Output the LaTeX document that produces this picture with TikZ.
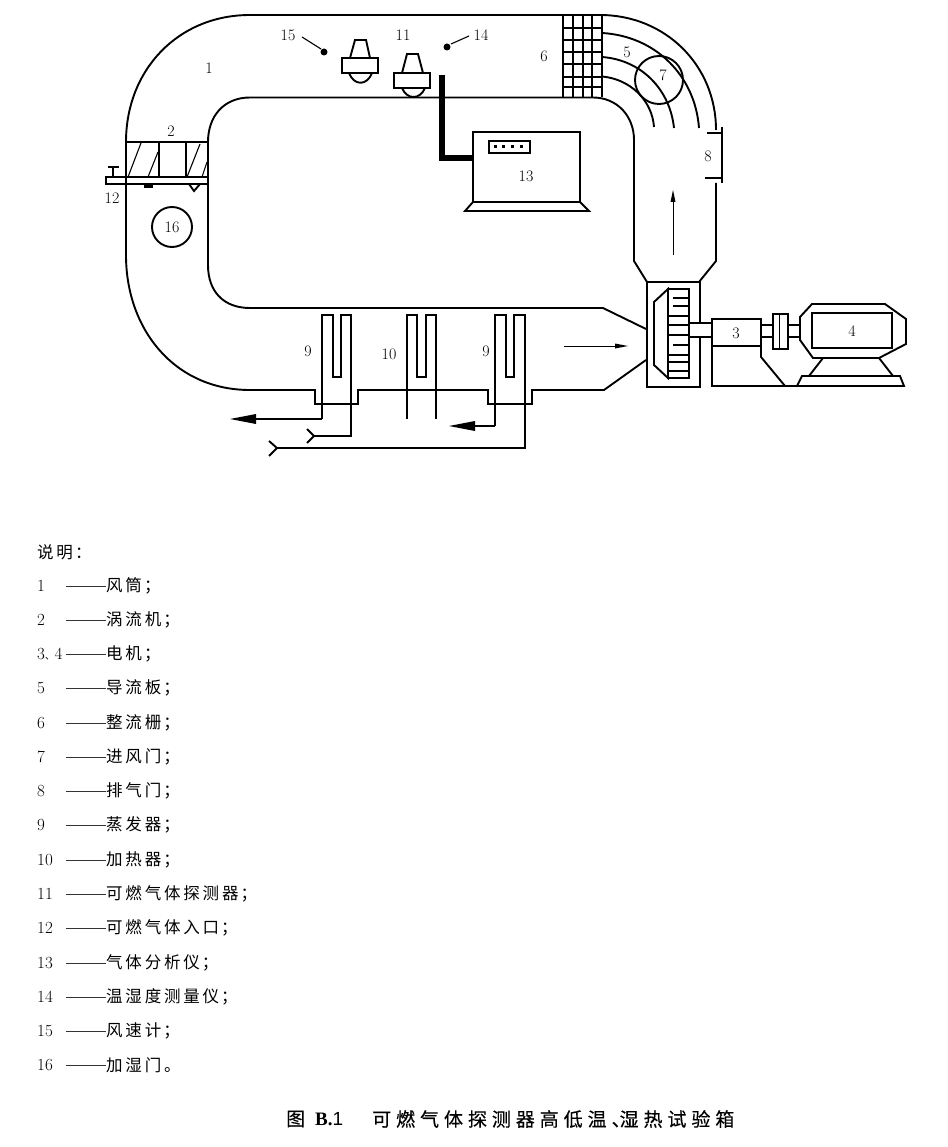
\documentclass[tikz,border=0pt]{standalone}
\usepackage{fontspec}
\newfontfamily\cjk{Noto Sans CJK SC}[LetterSpace=17]
\newfontfamily\cjkp{Noto Sans CJK SC}
\newfontfamily\cjkb{Noto Sans CJK SC}[LetterSpace=26,FakeBold=0.4]
\newfontfamily\capbold{Liberation Serif Bold}
\newfontfamily\capsans{Liberation Sans}
\tikzset{
  wall/.style={line width=1.9pt,line join=miter},
  thin line/.style={line width=1.1pt},
  num/.style={font=\fontsize{16}{17}\selectfont,inner sep=0pt},
  legend/.style={anchor=west,inner sep=0pt,font=\fontsize{16.5}{17}\selectfont},
  legnum/.style={anchor=west,inner sep=0pt,font=\fontsize{17}{18}\selectfont},
  dashrule/.style={line width=.8pt,black!80},
  capt/.style={inner sep=0pt,anchor=west,font=\fontsize{19}{20}\selectfont}
}
\newcommand{\semi}{\hspace{2pt}；}
\begin{document}
\begin{tikzpicture}[x=1pt,y=-1pt]
\useasboundingbox (0,0) rectangle (947,1147);
% duct
\draw[wall] (126,184) -- (126,142) .. controls (126,70) and (178,15) .. (250,15) -- (600,15)
  .. controls (665,15) and (716,65) .. (716,130);
\draw[wall] (208,142) .. controls (208,116) and (224,97.5) .. (250,97.5) -- (593,97.5)
  .. controls (617,97.5) and (634,116) .. (634,140) -- (634,261) -- (647,282);
\draw[wall] (716,183) -- (716,261) -- (699,282);
\draw[wall] (126,184) -- (126,255) .. controls (126,330) and (175,390) .. (250,390) -- (315,390) -- (315,404) -- (358,404) -- (358,390)
  -- (488,390) -- (488,404) -- (532,404) -- (532,390) -- (604,390) -- (646,360);
\draw[wall] (208,142) -- (208,265) .. controls (208,292) and (224,308) .. (250,308) -- (603,308) -- (646,329);
% vanes
\draw[wall] (602,33) .. controls (655,36) and (695,75) .. (699,128);
\draw[wall] (602,57) .. controls (642,60) and (670,90) .. (674,128);
\draw[wall] (602,76.5) .. controls (630,79) and (652,100) .. (654,127);
\node[draw,circle,wall,minimum size=48pt,inner sep=0pt] (c7) at (659,80) {};
% grid
\foreach \x in {563,573,583,592,602} \draw[wall] (\x,15) -- (\x,97.5);
\foreach \y in {28,40,52,64,77,87} \draw[wall] (563,\y) -- (602,\y);
% outlet 8
\draw[wall] (722,127) -- (722,183);
\draw[wall] (707,133) -- (722,133);
\draw[wall] (705,178) -- (722,178);
% swirl section 2
\draw[wall] (126,142) -- (208,142);
\draw[wall] (159,142) -- (159,177);
\draw[wall] (186,142) -- (186,177);
\draw[thin line] (128,177) -- (141,143) (148,177) -- (158,152) (187,177) -- (200,144) (202,177) -- (207,162);
\draw[wall] (106,177) rectangle (208,184);
\draw[wall] (113,177) -- (113,167) (108,167) -- (119,167);
\fill (144,184) rectangle (153,188);
\draw[wall] (189,184) -- (194,191) -- (200,184);
\node[draw,circle,wall,minimum size=40pt,inner sep=0pt,num] (c16) at (172,227) {16};
% sensors
\draw[wall] (350,58) -- (355,40) -- (366,40) -- (370,58);
\draw[wall] (342,58) rectangle (378,73);
\draw[wall] (349,73) .. controls (354,86) and (367,86) .. (372,73);
\draw[wall] (402,73) -- (407,54) -- (418,54) -- (423,73);
\draw[wall] (394,73) rectangle (430,88);
\draw[wall] (402,88) .. controls (407,100) and (420,100) .. (425,88);
\fill (324,52) circle (3.5);
\draw[thin line] (302,37) -- (321,49);
\fill (447,47) circle (3.5);
\draw[thin line] (451,44) -- (469,36);
% analyser
\draw[line width=6pt,line join=miter] (442,75) -- (442,158) -- (473,158);
\draw[wall] (473,132) rectangle (580,202);
\draw[wall] (489,141) rectangle (530,153);
\foreach \x in {495,503,512,521} \fill (\x-1.5,145.5) rectangle (\x+1.5,148.5);
\draw[wall] (473,202) -- (465,211) -- (589,211) -- (580,202);
% evaporators
\draw[wall] (322,419) -- (322,315) -- (333,315) -- (333,377) -- (341,377) -- (341,315) -- (351,315) -- (351,436) -- (314,436);
\draw[wall] (307,429) -- (314,436) -- (307,443);
\draw[wall] (322,419) -- (250,419);
\fill (230,419) -- (256,414) -- (256,424) -- cycle;
\draw[wall] (407,419) -- (407,315) -- (417,315) -- (417,377) -- (426,377) -- (426,315) -- (436,315) -- (436,419);
\draw[wall] (495,426) -- (495,315) -- (506,315) -- (506,377) -- (514,377) -- (514,315) -- (525,315) -- (525,448) -- (277,448);
\draw[wall] (269,441) -- (277,448) -- (269,456);
\draw[wall] (495,426) -- (470,426);
\fill (449,426) -- (475,421) -- (475,431) -- cycle;
% fan
\draw[wall] (700,323) -- (700,282) -- (647,282) -- (647,387) -- (700,387) -- (700,337);
\draw[wall] (668,289) -- (654,302) -- (654,365) -- (668,378) -- cycle;
\draw[wall] (668,289) rectangle (689,378);
\foreach \y in {316,325,335,355,362,371} \draw[wall] (668,\y) -- (689,\y);
\foreach \y in {298,306,345} \draw[wall] (673,\y) -- (689,\y);
% motor 3
\draw[wall] (689,323) -- (712,323) (689,337) -- (712,337);
\draw[wall] (712,319) rectangle (761,346);
\draw[wall] (712,346) -- (712,386) -- (799,386);
\draw[wall] (761,346) -- (761,357) -- (785,386);
\draw[wall] (761,325) -- (773,325) (761,337) -- (773,337);
\draw[wall] (773,314) rectangle (788,349);
\draw[wall] (779.5,314) -- (779.5,349);
\draw[wall] (788,325) -- (800,325) (788,337) -- (800,337);
% motor 4
\draw[wall] (800,317) -- (812,304) -- (885,304) -- (906,319) -- (906,344) -- (879,358) -- (813,358) -- (800,340) -- cycle;
\draw[wall] (812,313) rectangle (892,348);
\draw[wall] (823,358) -- (809,376) (879,358) -- (893,376);
\draw[wall] (802,376) -- (900,376) -- (904,386) -- (797,386) -- cycle;
% flow arrows
\draw[line width=.8pt] (673,255) -- (673,200);
\fill (673,190) -- (670.5,202) -- (675.5,202) -- cycle;
\draw[line width=.8pt] (564,346) -- (618,346);
\fill (628,346) -- (615,343.5) -- (615,348.5) -- cycle;
% labels
\node[num] (n1) at (209,68) {1};
\node[num] (n2) at (171,131) {2};
\node[num] (n12) at (112,198) {12};
\node[num] (n15) at (288,35) {15};
\node[num] (n11) at (403,35) {11};
\node[num] (n14) at (481,35) {14};
\node[num] (n6) at (544,56) {6};
\node[num] (n5) at (627,52) {5};
\node[num] (n7) at (663,75) {7};
\node[num] (n8) at (708,156) {8};
\node[num] (n13) at (526,176) {13};
\node[num] (n3) at (736,333) {3};
\node[num] (n4) at (852,331) {4};
\node[num] (n9a) at (308,351) {9};
\node[num] (n10) at (389,354) {10};
\node[num] (n9b) at (486,351) {9};
% legend
\node[legend] (title) at (37,552) {\cjk 说明\hspace{2pt}：};
\foreach \n/\t/\e/\y in {1/风筒/\semi/586,2/涡流机/\semi/620,5/导流板/\semi/688,6/整流栅/\semi/723,7/进风门/\semi/757,8/排气门/\semi/791,9/蒸发器/\semi/825,10/加热器/\semi/860,11/可燃气体探测器/\semi/894,12/可燃气体入口/\semi/928,13/气体分析仪/\semi/963,14/温湿度测量仪/\semi/997,15/风速计/\semi/1031,16/加湿门/。/1065}{
  \node[legnum] at (37,\y) {\n};
  \draw[dashrule] (66,\y) -- (106,\y);
  \node[legend] at (106,\y) {\cjk\t\e};
}
\node[legnum] at (37,654) {3\makebox[9.5pt][l]{\fontsize{9.5}{10}\selectfont\cjkp 、}4};
\draw[dashrule] (66,654) -- (106,654);
\node[legend] at (106,654) {\cjk 电机\semi};
\node[capt] (cap) at (286,1119) {\cjkb 图};
\node[capt] (capb) at (315,1119) {\capbold B.\capsans 1};
\node[capt] (cap2) at (372,1119) {\cjkb 可燃气体探测器高低温、\hspace{-11pt}湿热试验箱};
\end{tikzpicture}
\end{document}
